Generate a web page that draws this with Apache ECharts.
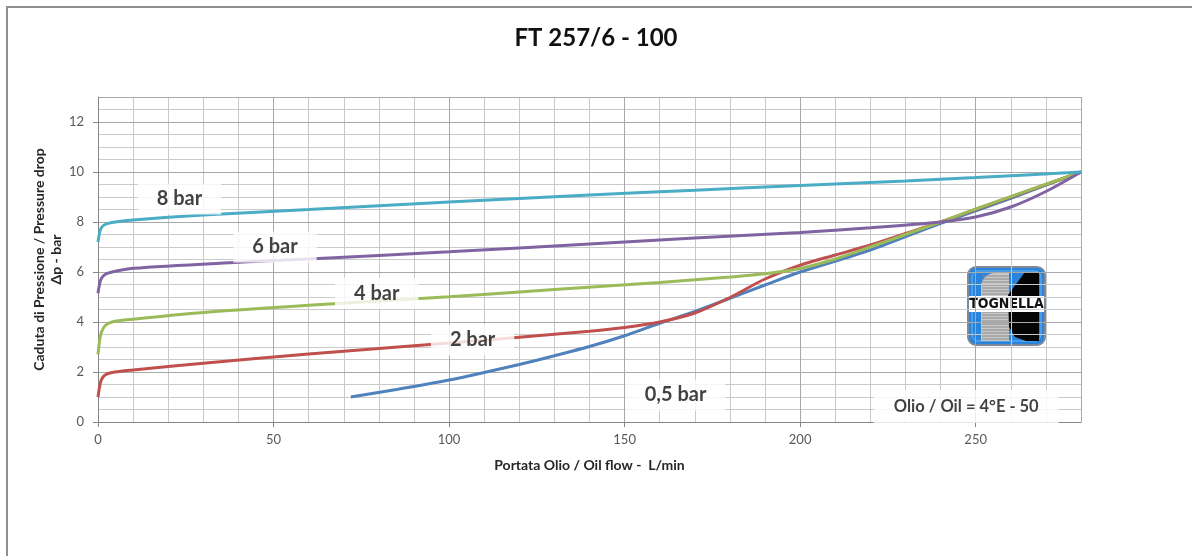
<!DOCTYPE html>
<html>
<head>
<meta charset="utf-8">
<script src="https://cdn.jsdelivr.net/npm/echarts@6/dist/echarts.min.js"></script>
<style>
html,body{margin:0;padding:0;background:#fff;}
#chart{width:1192px;height:556px;}
</style>
</head>
<body>
<div id="chart"></div>
<script>
// ---- data ----
var chartTitle = 'FT 257/6 - 100';
var xName = 'Portata Olio / Oil flow -  L/min';
var yName = 'Caduta di Pressione / Pressure drop\nΔp - bar';

var seriesNames = ['0,5 bar', '2 bar', '4 bar', '6 bar', '8 bar'];

var flow05 = [72, 85, 100, 110, 120, 130, 140, 150, 160, 170, 180, 190, 200, 220, 240, 260, 280];
var dp05   = [1.0, 1.3, 1.68, 1.98, 2.3, 2.65, 3.02, 3.45, 3.95, 4.42, 4.95, 5.48, 6.0, 6.88, 7.95, 8.95, 10];

var flow2 = [0, 0.5, 1, 2, 4, 10, 30, 60, 100, 120, 140, 150, 160, 170, 180, 190, 200, 210, 220, 230, 240, 250, 280];
var dp2   = [1.0, 1.45, 1.7, 1.88, 1.98, 2.08, 2.35, 2.72, 3.16, 3.39, 3.63, 3.78, 4.0, 4.36, 4.98, 5.72, 6.27, 6.68, 7.08, 7.54, 8.0, 8.5, 10];

var flow4 = [0, 0.5, 1, 2, 4, 10, 30, 60, 100, 130, 160, 180, 190, 200, 210, 220, 230, 240, 250, 280];
var dp4   = [2.7, 3.3, 3.6, 3.85, 4.0, 4.11, 4.38, 4.67, 5.01, 5.3, 5.58, 5.8, 5.93, 6.14, 6.52, 7.0, 7.5, 8.0, 8.52, 10];

var flow6 = [0, 0.5, 1, 2, 4, 10, 40, 60, 100, 140, 170, 200, 220, 240, 250, 260, 270, 280];
var dp6   = [5.15, 5.55, 5.75, 5.9, 6.0, 6.15, 6.39, 6.52, 6.81, 7.12, 7.36, 7.58, 7.77, 8.0, 8.2, 8.6, 9.22, 10];

var flow8 = [0, 0.5, 1, 2, 4, 10, 30, 60, 100, 140, 170, 200, 230, 250, 280];
var dp8   = [7.2, 7.6, 7.78, 7.9, 7.98, 8.08, 8.28, 8.5, 8.8, 9.08, 9.27, 9.46, 9.64, 9.78, 10];

var xTicks = [0, 50, 100, 150, 200, 250];
var yTicks = [0, 2, 4, 6, 8, 10, 12];

// annotation texts and their anchor points (data units)
var noteText = ['8 bar', '6 bar', '4 bar', '2 bar', '0,5 bar', 'Olio / Oil = 4°E - 50'];
var noteX    = [23.2, 50.4, 79.4, 106.7, 164.5, 247.3];
var noteY    = [8.92, 7.0, 5.15, 3.28, 1.08, 0.62];

// ---- build ----
function pairs(xs, ys){ var o=[]; for (var i=0;i<xs.length;i++) o.push([xs[i], ys[i]]); return o; }
var seriesData = [pairs(flow05, dp05), pairs(flow2, dp2), pairs(flow4, dp4), pairs(flow6, dp6), pairs(flow8, dp8)];
var colors = ['#4f81bd', '#c0504d', '#9bbb59', '#8064a2', '#4bacc6'];

var FONT = 'Lato, "Open Sans", sans-serif';
var series = seriesData.map(function(d, i){
  return {
    name: seriesNames[i], type: 'line', data: d, xAxisIndex: 1, yAxisIndex: 1,
    smooth: 0.3, showSymbol: false, symbol: 'none',
    lineStyle: {color: colors[i], width: 3}, z: 3, animation: false
  };
});
var noteData = noteText.map(function(t, i){
  var item = {value: [noteX[i], noteY[i]], name: t};
  if (i === noteText.length - 1) {
    item.label = {fontSize: 16.5, padding: [8, 20, 8, 20]};
  }
  return item;
});
series.push({
  type: 'scatter', xAxisIndex: 1, yAxisIndex: 1, symbolSize: 0, z: 10, silent: true, animation: false,
  data: noteData,
  label: {
    show: true, position: 'inside', formatter: function(p){ return p.name; },
    fontFamily: FONT, fontWeight: 'bold', fontSize: 20, color: '#111',
    backgroundColor: '#ffffff', padding: [6, 19, 5, 19]
  }
});

// logo decoration
var logoChildren = [
  {type: 'rect', shape: {x: 0, y: 0, width: 77, height: 78, r: 8}, style: {fill: '#2a84dc', stroke: '#7d8a99', lineWidth: 2}},
  {type: 'rect', shape: {x: 4, y: 4, width: 69, height: 70, r: 6}, style: {fill: 'none', stroke: '#6cb2f0', lineWidth: 1}},
  {type: 'rect', shape: {x: 13, y: 6, width: 28, height: 68, r: [14, 0, 0, 0]}, style: {fill: '#c8c8c8'}}
];
for (var s = 9; s < 73; s += 3) {
  logoChildren.push({type: 'line', shape: {x1: 14, y1: s, x2: 41, y2: s}, style: {stroke: '#8a8a8a', lineWidth: 1}});
}
logoChildren.push({type: 'polygon', shape: {points: [[57, 5], [71, 5], [71, 74], [58, 74], [47, 70], [41, 60], [40, 28]]}, style: {fill: '#050505'}});
logoChildren.push({type: 'rect', shape: {x: 1, y: 29, width: 75, height: 16}, style: {fill: '#ffffff'}});
logoChildren.push({type: 'text', x: 38.5, y: 37.5, style: {text: 'TOGNELLA', font: 'bold 14px "DejaVu Sans Condensed", "DejaVu Sans", sans-serif', fill: '#111', align: 'center', verticalAlign: 'middle'}});

var chart = echarts.init(document.getElementById('chart'), null, {renderer: 'canvas'});
chart.setOption({
  animation: false,
  backgroundColor: '#ffffff',
  title: {text: chartTitle, left: 'center', top: 21, textStyle: {fontFamily: FONT, fontWeight: 'bold', fontSize: 24, color: '#111'}},
  grid: {left: 98, right: 111, top: 97, bottom: 134, containLabel: false},
  xAxis: [
    {type: 'value', min: 0, max: 280, interval: 10, z: 0,
     axisLine: {show: false}, axisTick: {show: false}, axisLabel: {show: false},
     splitLine: {show: true, lineStyle: {color: '#cacaca', width: 1}}},
    {type: 'value', min: 0, max: 280, interval: 50, position: 'bottom', z: 1,
     name: xName, nameLocation: 'middle', nameGap: 36,
     nameTextStyle: {fontFamily: FONT, fontWeight: 'bold', fontSize: 14, color: '#262626'},
     axisLine: {show: true, onZero: false, lineStyle: {color: '#868686', width: 1}},
     axisTick: {show: true, length: 5, lineStyle: {color: '#868686'}},
     axisLabel: {showMaxLabel: false, fontFamily: FONT, fontSize: 13, color: '#595959', margin: 11,
       formatter: function(v){ return xTicks.indexOf(v) >= 0 ? String(v) : ''; }},
     splitLine: {show: true, lineStyle: {color: '#a8a8a8', width: 1}}}
  ],
  yAxis: [
    {type: 'value', min: 0, max: 13, interval: 0.5, z: 0,
     axisLine: {show: false}, axisTick: {show: false}, axisLabel: {show: false},
     splitLine: {show: true, lineStyle: {color: '#cacaca', width: 1}}},
    {type: 'value', min: 0, max: 13, interval: 2, position: 'left', z: 1,
     name: yName, nameLocation: 'middle', nameGap: 33, nameRotate: 90, nameMoveOverlap: false,
     nameTextStyle: {fontFamily: FONT, fontWeight: 'bold', fontSize: 14, color: '#262626', lineHeight: 17, align: 'center'},
     axisLine: {show: true, onZero: false, lineStyle: {color: '#868686', width: 1}},
     axisTick: {show: true, length: 5, lineStyle: {color: '#868686'}},
     axisLabel: {showMaxLabel: false, fontFamily: FONT, fontSize: 13, color: '#595959', margin: 14,
       formatter: function(v){ return yTicks.indexOf(v) >= 0 ? String(v) : ''; }},
     splitLine: {show: true, lineStyle: {color: '#a8a8a8', width: 1}}}
  ],
  series: series,
  graphic: [
    {type: 'rect', silent: true, z: -1, shape: {x: 7, y: 7, width: 1240, height: 600}, style: {fill: 'none', stroke: '#8f8f8f', lineWidth: 2}},
    {type: 'group', left: 967, top: 266, z: 20, silent: true, children: logoChildren}
  ]
});
</script>
</body>
</html>
